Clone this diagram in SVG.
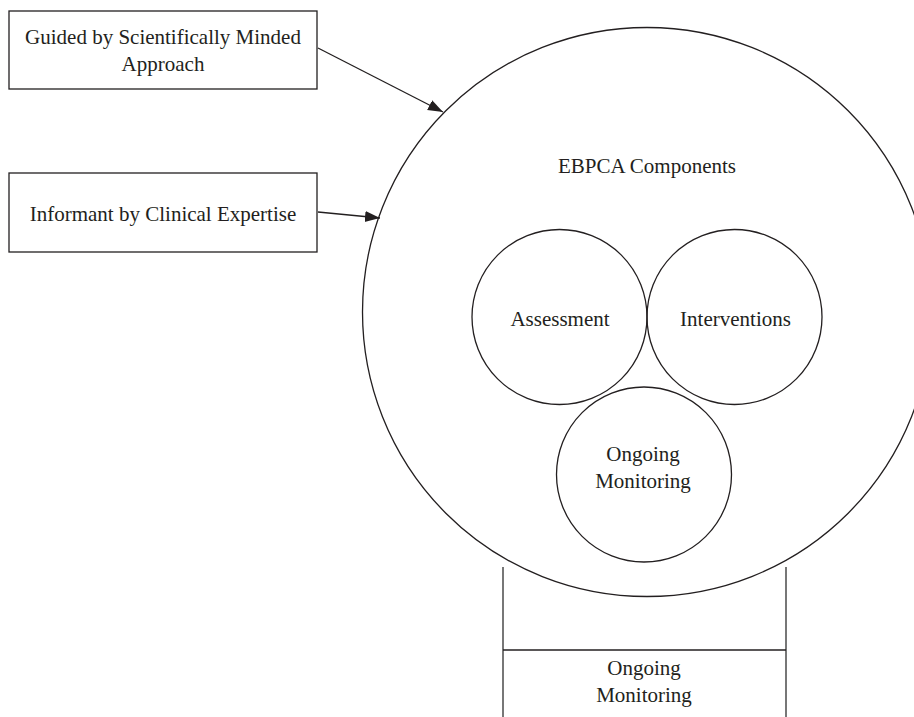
<svg xmlns="http://www.w3.org/2000/svg" width="914" height="717" viewBox="0 0 914 717">
  <style>
    .shape { fill: none; stroke: #231f20; stroke-width: 1.3; }
    .box { fill: #fff; stroke: #231f20; stroke-width: 1.3; }
    .edge { fill: none; stroke: #231f20; stroke-width: 1.3; }
    .side { fill: none; stroke: #555; stroke-width: 1.6; }
    .lbl { font-family: "Liberation Serif", "Times New Roman", serif; font-size: 21px; fill: #231f20; text-anchor: middle; }
  </style>
  <defs>
    <marker id="arrow" markerUnits="userSpaceOnUse" markerWidth="16" markerHeight="12" refX="15" refY="5.5" orient="auto">
      <path d="M0,0 L15,5.5 L0,11 z" fill="#231f20"/>
    </marker>
  </defs>
  <rect width="914" height="717" fill="#fff"/>

  <g id="ebpca">
    <circle class="shape" cx="647" cy="312" r="284.5"/>
    <text class="lbl" x="647" y="173">EBPCA Components</text>
  </g>

  <g id="guided">
    <rect class="box" x="9" y="11" width="308" height="78"/>
    <text class="lbl" x="163" y="44">Guided by Scientifically Minded</text>
    <text class="lbl" x="163" y="71">Approach</text>
  </g>

  <g id="informant">
    <rect class="box" x="9" y="173" width="308" height="79"/>
    <text class="lbl" x="163" y="221">Informant by Clinical Expertise</text>
  </g>

  <g id="assessment">
    <circle class="shape" cx="559.5" cy="317" r="87.5"/>
    <text class="lbl" x="560" y="326">Assessment</text>
  </g>

  <g id="interventions">
    <circle class="shape" cx="734.5" cy="317" r="87.5"/>
    <text class="lbl" x="735.5" y="326">Interventions</text>
  </g>

  <g id="ongoing">
    <circle class="shape" cx="644" cy="474.5" r="87.5"/>
    <text class="lbl" x="643" y="461">Ongoing</text>
    <text class="lbl" x="643" y="488">Monitoring</text>
  </g>

  <g id="ongoing-panel">
    <line class="side" x1="503" y1="567" x2="503" y2="717"/>
    <line class="side" x1="786" y1="567" x2="786" y2="717"/>
    <line class="edge" x1="503" y1="650" x2="786" y2="650"/>
    <text class="lbl" x="644" y="675">Ongoing</text>
    <text class="lbl" x="644" y="702">Monitoring</text>
  </g>

  <g id="connectors">
    <line class="edge" x1="318" y1="48" x2="443" y2="112" marker-end="url(#arrow)"/>
    <line class="edge" x1="318" y1="212" x2="380" y2="218" marker-end="url(#arrow)"/>
  </g>
</svg>
